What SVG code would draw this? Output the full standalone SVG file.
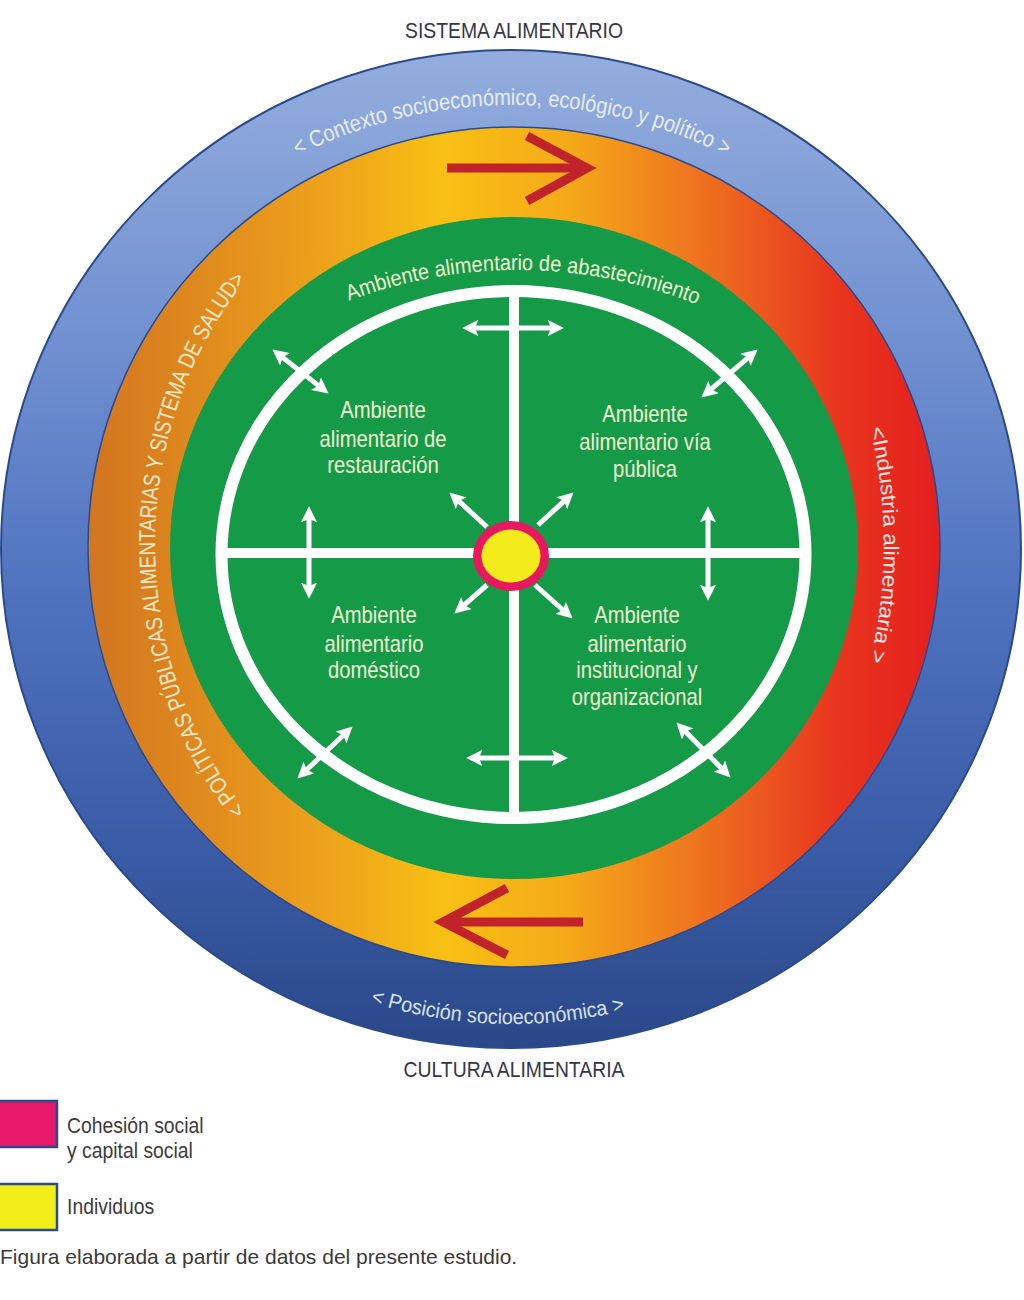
<svg xmlns="http://www.w3.org/2000/svg" width="1024" height="1300" viewBox="0 0 1024 1300">
  <style>
    .sans { font-family: "Liberation Sans", Arial, sans-serif; }
    .head { font-size: 22px; fill: #34364a; text-anchor: middle; }
    .quad { font-size: 23px; fill: #eef3cf; text-anchor: middle; }
    .leg { font-size: 22px; fill: #3c3c3c; }
    .cap { font-size: 21px; fill: #3a3a3a; }
    .wa { stroke: #ffffff; stroke-width: 5; fill: none; }
    .wa2 { marker-start: url(#ah); marker-end: url(#ah); }
    .wa1 { marker-end: url(#ah); }
    .ra { stroke: #c1232b; stroke-width: 9; fill: none; stroke-linejoin: miter; }
  </style>
  <defs>
    <linearGradient id="gBlue" x1="0" y1="0" x2="0" y2="1">
      <stop offset="0" stop-color="#94addd"/>
      <stop offset="0.3" stop-color="#6f8fd0"/>
      <stop offset="0.55" stop-color="#4f72bf"/>
      <stop offset="0.8" stop-color="#3a5ba6"/>
      <stop offset="1" stop-color="#2a4888"/>
    </linearGradient>
    <linearGradient id="gOrange" x1="0" y1="0" x2="1" y2="0">
      <stop offset="0" stop-color="#d27520"/>
      <stop offset="0.28" stop-color="#eea21b"/>
      <stop offset="0.42" stop-color="#f8c014"/>
      <stop offset="0.56" stop-color="#f5aa19"/>
      <stop offset="0.72" stop-color="#ee721f"/>
      <stop offset="0.88" stop-color="#e8351e"/>
      <stop offset="1" stop-color="#e41f1f"/>
    </linearGradient>
    <marker id="ah" viewBox="0 0 10 10" refX="2" refY="5" markerWidth="16" markerHeight="16" markerUnits="userSpaceOnUse" orient="auto-start-reverse">
      <path d="M0,0 L10,5 L0,10 L2,5 z" fill="#ffffff"/>
    </marker>
    <path id="pTop" d="M 50,550 A 462 445 0 0 1 974,550"/>
    <path id="pBot" d="M 40,549 A 472 475 0 0 0 984,549"/>
    <path id="pLeft" d="M 512,943 A 357 398 0 0 1 512,147"/>
    <path id="pRight" d="M 512,115 A 372 430 0 0 1 512,975"/>
    <path id="pGreen" d="M 38,750 A 480 480 0 0 1 998,750"/>
  </defs>

  <g id="rings">
    <ellipse cx="511" cy="549" rx="510" ry="499" fill="url(#gBlue)" stroke="#2b4a8c" stroke-width="2"/>
    <ellipse cx="514" cy="547" rx="426" ry="420" fill="url(#gOrange)" stroke="#2b4a8c" stroke-width="1.5"/>
    <ellipse cx="514" cy="548" rx="344" ry="331" fill="#159a48"/>
    <ellipse cx="513.5" cy="554.5" rx="292" ry="263.5" fill="none" stroke="#ffffff" stroke-width="12"/>
    <line x1="222" y1="553" x2="806" y2="553" stroke="#ffffff" stroke-width="10"/>
    <line x1="514" y1="291" x2="514" y2="818" stroke="#ffffff" stroke-width="10"/>
  </g>

  <g id="ring-labels" class="sans">
    <text font-size="23" fill="#e6edf8"><textPath href="#pTop" startOffset="50%" text-anchor="middle" textLength="445" lengthAdjust="spacingAndGlyphs">&lt; Contexto socioeconómico, ecológico y político &gt;</textPath></text>
    <text font-size="21" fill="#d8e1f3"><textPath href="#pBot" startOffset="729" text-anchor="middle" textLength="258" lengthAdjust="spacingAndGlyphs">&lt; Posición socioeconómica &gt;</textPath></text>
    <text font-size="23" fill="#fbe9cc"><textPath href="#pLeft" startOffset="50%" text-anchor="middle" textLength="572" lengthAdjust="spacingAndGlyphs">&lt; POLÍTICAS PÚBLICAS ALIMENTARIAS Y SISTEMA DE SALUD&gt;</textPath></text>
    <text font-size="21" fill="#fde6e4"><textPath href="#pRight" startOffset="50%" text-anchor="middle" textLength="236" lengthAdjust="spacingAndGlyphs">&lt;Industria alimentaria &gt;</textPath></text>
    <text font-size="22" fill="#eef3cf"><textPath href="#pGreen" startOffset="759" text-anchor="middle" textLength="356" lengthAdjust="spacingAndGlyphs">Ambiente alimentario de abastecimiento</textPath></text>
  </g>

  <g id="cycle-arrows">
    <line class="ra" x1="447" y1="168" x2="580" y2="168"/>
    <polyline class="ra" points="527,136 587,168 527,201"/>
    <line class="ra" x1="450" y1="922" x2="583" y2="922"/>
    <polyline class="ra" points="507,888 443,922 507,955"/>
  </g>

  <g id="connectors">
    <line class="wa wa2" x1="475" y1="328" x2="551" y2="328"/>
    <line class="wa wa2" x1="479" y1="758" x2="555" y2="758"/>
    <line class="wa wa2" x1="309" y1="519" x2="309" y2="586"/>
    <line class="wa wa2" x1="708" y1="519" x2="708" y2="588"/>
    <line class="wa wa2" x1="282.5" y1="357.4" x2="318.5" y2="385.6"/>
    <line class="wa wa2" x1="747.9" y1="357.8" x2="711.1" y2="389.2"/>
    <line class="wa wa2" x1="343.3" y1="735.2" x2="306.7" y2="769.8"/>
    <line class="wa wa2" x1="685.4" y1="731.6" x2="721.6" y2="768.4"/>
    <line class="wa wa1" x1="487" y1="527" x2="458.8" y2="501.1"/>
    <line class="wa wa1" x1="538" y1="525" x2="564.1" y2="501.1"/>
    <line class="wa wa1" x1="487" y1="585" x2="464" y2="605.1"/>
    <line class="wa wa1" x1="535" y1="585" x2="563" y2="610"/>
  </g>

  <g id="center">
    <ellipse cx="511" cy="556" rx="38" ry="35" fill="#e8185f"/>
    <ellipse cx="511" cy="556" rx="29.5" ry="26.5" fill="#f3ea1b"/>
  </g>

  <g id="node-restauracion" class="sans quad" transform="translate(383 0) scale(0.88 1)">
    <text x="0" y="418">Ambiente</text>
    <text x="0" y="447">alimentario de</text>
    <text x="0" y="473">restauración</text>
  </g>
  <g id="node-via-publica" class="sans quad" transform="translate(645 0) scale(0.88 1)">
    <text x="0" y="422">Ambiente</text>
    <text x="0" y="450">alimentario vía</text>
    <text x="0" y="477">pública</text>
  </g>
  <g id="node-domestico" class="sans quad" transform="translate(374 0) scale(0.88 1)">
    <text x="0" y="623">Ambiente</text>
    <text x="0" y="652">alimentario</text>
    <text x="0" y="678">doméstico</text>
  </g>
  <g id="node-institucional" class="sans quad" transform="translate(637 0) scale(0.88 1)">
    <text x="0" y="623">Ambiente</text>
    <text x="0" y="652">alimentario</text>
    <text x="0" y="678">institucional y</text>
    <text x="0" y="705">organizacional</text>
  </g>

  <g id="titles" class="sans head">
    <text transform="translate(514 0) scale(0.88 1)" x="0" y="38">SISTEMA ALIMENTARIO</text>
    <text transform="translate(514 0) scale(0.88 1)" x="0" y="1077">CULTURA ALIMENTARIA</text>
  </g>

  <g id="legend">
    <rect x="-2" y="1101" width="59" height="46" fill="#e8196a" stroke="#2b4a8c" stroke-width="2.5"/>
    <rect x="-2" y="1184" width="59" height="46" fill="#f2ee1a" stroke="#2b4a8c" stroke-width="2.5"/>
    <g class="sans leg" transform="translate(67 0) scale(0.88 1)">
      <text x="0" y="1133">Cohesión social</text>
      <text x="0" y="1158">y capital social</text>
      <text x="0" y="1214">Individuos</text>
    </g>
  </g>

  <text class="sans cap" x="0" y="1264">Figura elaborada a partir de datos del presente estudio.</text>
</svg>
